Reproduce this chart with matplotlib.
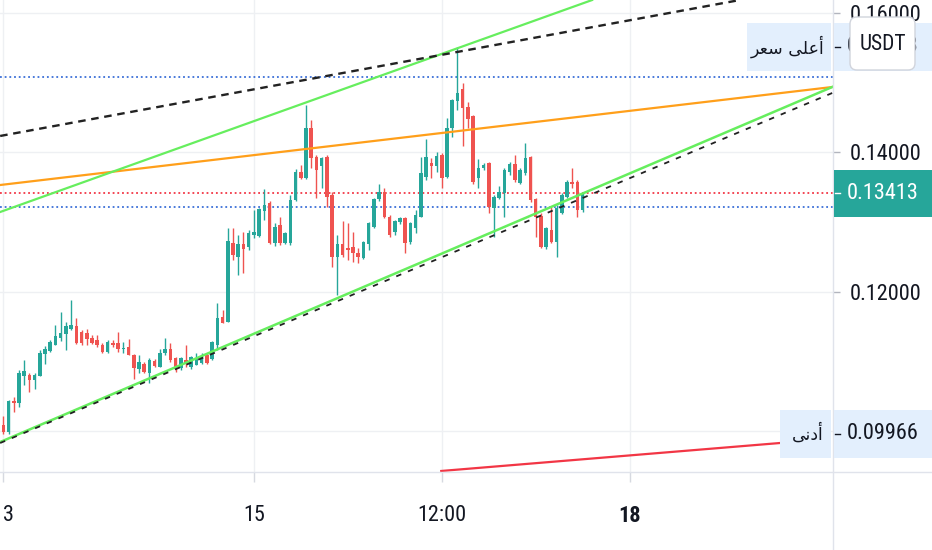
import numpy as np
import matplotlib.pyplot as plt
from matplotlib import font_manager
from matplotlib.patches import Rectangle, FancyBboxPatch
from matplotlib.lines import Line2D
from matplotlib.transforms import blended_transform_factory, IdentityTransform

# hourly candles, hours counted from day 15 00:00
first_hour = -48
opens = [
    0.10093, 0.09990, 0.10437, 0.10409, 0.10796, 0.10810, 0.10738, 0.10796, 0.11111, 0.11154,
    0.11240, 0.11340, 0.11398, 0.11470, 0.11513, 0.11426, 0.11412, 0.11340, 0.11312, 0.11240,
    0.11140, 0.11269, 0.11269, 0.11183, 0.11211, 0.11097, 0.10896, 0.10968, 0.10839, 0.11011,
    0.10925, 0.11125, 0.11183, 0.11054, 0.10910, 0.11025, 0.10925, 0.10953, 0.10982, 0.11097,
    0.11039, 0.11240, 0.11642, 0.11570, 0.12702, 0.12502, 0.12688, 0.12645, 0.12817, 0.12803,
    0.13161, 0.13276, 0.12702, 0.12961, 0.12702, 0.12702, 0.13319, 0.13720, 0.13634, 0.14351,
    0.13935, 0.13806, 0.13935, 0.13391, 0.12502, 0.12688, 0.12631, 0.12645, 0.12559, 0.12487,
    0.12688, 0.12932, 0.13333, 0.13434, 0.13075, 0.12860, 0.13004, 0.13061, 0.12717, 0.12918,
    0.13075, 0.13649, 0.13849, 0.13806, 0.13964, 0.13649, 0.14351, 0.14738, 0.14910, 0.14652,
    0.14523, 0.13634, 0.13778, 0.13849, 0.13204, 0.13348, 0.13419, 0.13720, 0.13835, 0.13563,
    0.13706, 0.13935, 0.13333, 0.13090, 0.12645, 0.12889, 0.12717, 0.13133, 0.13362, 0.13577,
    0.13577, 0.13176]
highs = [
    0.10222, 0.10452, 0.10495, 0.10882, 0.11025, 0.10839, 0.10839, 0.11168, 0.11226, 0.11312,
    0.11527, 0.11713, 0.11570, 0.11885, 0.11627, 0.11455, 0.11470, 0.11384, 0.11384, 0.11269,
    0.11312, 0.11312, 0.11426, 0.11283, 0.11326, 0.11111, 0.11097, 0.10996, 0.11054, 0.11039,
    0.11183, 0.11340, 0.11269, 0.11068, 0.11068, 0.11240, 0.11083, 0.11125, 0.11125, 0.11125,
    0.11297, 0.11842, 0.11742, 0.12918, 0.12918, 0.12817, 0.12860, 0.12889, 0.13176, 0.13204,
    0.13477, 0.13305, 0.12989, 0.13075, 0.12860, 0.13391, 0.13763, 0.13821, 0.14681, 0.14466,
    0.13964, 0.13935, 0.13964, 0.13434, 0.12817, 0.13018, 0.12989, 0.12860, 0.12631, 0.12731,
    0.13004, 0.13348, 0.13548, 0.13491, 0.13104, 0.13032, 0.13075, 0.13075, 0.13004, 0.13176,
    0.13935, 0.14194, 0.13921, 0.14007, 0.13993, 0.14495, 0.14767, 0.15513, 0.14996, 0.14724,
    0.14538, 0.13907, 0.13849, 0.13860, 0.13391, 0.13520, 0.13778, 0.13863, 0.13964, 0.13778,
    0.14136, 0.13950, 0.13348, 0.13133, 0.12932, 0.13219, 0.13247, 0.13419, 0.13606, 0.13778,
    0.13606, 0.13434]
lows = [
    0.09970, 0.09966, 0.10280, 0.10351, 0.10667, 0.10566, 0.10609, 0.10796, 0.10968, 0.11140,
    0.11240, 0.11297, 0.11168, 0.11455, 0.11255, 0.11240, 0.11240, 0.11255, 0.11211, 0.11125,
    0.11125, 0.11211, 0.11140, 0.11125, 0.11090, 0.10753, 0.10839, 0.10839, 0.10695, 0.10925,
    0.10925, 0.11097, 0.10996, 0.10853, 0.10882, 0.10925, 0.10896, 0.10953, 0.10968, 0.10968,
    0.11025, 0.11168, 0.11556, 0.11570, 0.12459, 0.12244, 0.12272, 0.12602, 0.12775, 0.12789,
    0.13032, 0.12688, 0.12659, 0.12674, 0.12688, 0.12674, 0.13305, 0.13620, 0.13620, 0.13778,
    0.13348, 0.13491, 0.13219, 0.12358, 0.11957, 0.12502, 0.12459, 0.12430, 0.12416, 0.12473,
    0.12602, 0.12918, 0.13305, 0.13061, 0.12789, 0.12817, 0.12975, 0.12559, 0.12688, 0.12846,
    0.13075, 0.13606, 0.13634, 0.13720, 0.13491, 0.13634, 0.14222, 0.14609, 0.14093, 0.14351,
    0.13548, 0.13491, 0.13749, 0.13133, 0.12789, 0.13333, 0.13075, 0.13677, 0.13577, 0.13548,
    0.13677, 0.13290, 0.12789, 0.12631, 0.12616, 0.12702, 0.12502, 0.13118, 0.13348, 0.13491,
    0.13075, 0.13147]
closes = [
    0.09993, 0.10437, 0.10409, 0.10839, 0.10867, 0.10738, 0.10810, 0.11125, 0.11183, 0.11283,
    0.11369, 0.11412, 0.11513, 0.11527, 0.11269, 0.11269, 0.11326, 0.11269, 0.11240, 0.11140,
    0.11283, 0.11240, 0.11183, 0.11197, 0.11097, 0.10910, 0.10996, 0.10853, 0.11025, 0.10939,
    0.11125, 0.11183, 0.11025, 0.10910, 0.11054, 0.10968, 0.11068, 0.11054, 0.11068, 0.10982,
    0.11283, 0.11627, 0.11556, 0.12731, 0.12530, 0.12688, 0.12616, 0.12846, 0.12860, 0.13190,
    0.13247, 0.12702, 0.12932, 0.12702, 0.12846, 0.13319, 0.13720, 0.13634, 0.14351, 0.13921,
    0.13749, 0.13921, 0.13362, 0.12502, 0.12688, 0.12530, 0.12602, 0.12559, 0.12502, 0.12717,
    0.12989, 0.13333, 0.13434, 0.13075, 0.12817, 0.13018, 0.13061, 0.12702, 0.12989, 0.13104,
    0.13706, 0.13935, 0.13806, 0.13950, 0.13634, 0.14351, 0.14753, 0.14853, 0.14638, 0.14480,
    0.13577, 0.13778, 0.13821, 0.13219, 0.13362, 0.13434, 0.13749, 0.13835, 0.13606, 0.13749,
    0.13921, 0.13319, 0.13075, 0.12645, 0.12918, 0.12717, 0.13204, 0.13391, 0.13577, 0.13548,
    0.13176, 0.13413]

# drawn trend lines: (hours, prices)
upper_green = ([-48.6, 64.8], [0.13147, 0.16186])
upper_dashed = ([-48.6, 93.1], [0.14237, 0.16186])
orange_line = ([-48.6, 110.8], [0.13534, 0.14939])
lower_green = ([-48.6, 110.8], [0.09849, 0.14939])
lower_dashed = ([-48.6, 110.8], [0.09835, 0.14853])
red_line = ([35.9, 100.8], [0.09434, 0.09835])

level_top = 0.15082
level_last = 0.13413
level_bottom = 0.13214
high_price = 0.15513
low_price = 0.09966

x_ticks = [-48, 0, 36, 72]
x_labels = ['13', '15', '12:00', '18']
y_ticks = [0.10, 0.12, 0.14, 0.16]
y_labels = ['', '0.12000', '0.14000', '0.16000']  # 0.10 sits under the low label

# Arabic labels in presentation forms, visual order (أعلى سعر / أدنى)
high_text = '\uFEAE\uFECC\uFEB3 \uFEF0\uFEE0\uFECB\uFE83'
low_text = '\uFEF0\uFEE7\uFEA9\uFE83'

names = {f.name for f in font_manager.fontManager.ttflist}
narrow = [n for n in ['Roboto Condensed', 'Liberation Sans Narrow'] if n in names]
num_font = narrow[0] if narrow else 'Roboto'
num_size = 16 if narrow else 14
plt.rcParams['font.family'] = [num_font, 'DejaVu Sans']

UP, DOWN = '#26a69a', '#ef5350'
GREEN, ORANGE = '#66ee5e', '#ff9f1a'
BLUE, RED = '#3b6fd8', '#f23645'
TXT = '#131722'
LABEL_BG = '#e3effd'

W, H = 932, 550
fig = plt.figure(figsize=(W / 100, H / 100), dpi=100)
ax = fig.add_axes([0, 78 / H, 833 / W, 472 / H])

o = np.array(opens)
h = np.array(highs)
l = np.array(lows)
c = np.array(closes)
t = np.arange(first_hour, first_hour + len(o))
col = np.where(c >= o, UP, DOWN)

ax.vlines(t, l, h, color=col, lw=1, zorder=3)
body = np.maximum(np.abs(c - o), 0.00004)
ax.bar(t, body, 0.68, bottom=np.minimum(o, c), color=col, zorder=4)

ax.axhline(level_top, color=BLUE, lw=1.3, ls=(0, (1, 1.6)), zorder=2)
ax.axhline(level_bottom, color=BLUE, lw=1.3, ls=(0, (1, 1.6)), zorder=2)
ax.axhline(level_last, color=RED, lw=1.3, ls=(0, (1, 1.6)), zorder=2)

ax.plot(*orange_line, color=ORANGE, lw=1.6, zorder=5)
ax.plot(*upper_green, color=GREEN, lw=1.6, zorder=5)
ax.plot(*lower_green, color=GREEN, lw=1.8, zorder=5)
ax.plot(*upper_dashed, color='#222222', lw=1.7, ls=(0, (3.2, 2.4)), zorder=5)
ax.plot(*lower_dashed, color='#222222', lw=1.3, ls=(0, (3, 4)), zorder=6)
ax.plot(*red_line, color=RED, lw=1.6, zorder=5)

ax.set_xlim(-48.63, 110.95)
ax.set_ylim(0.094193, 0.161864)
for s in ax.spines.values():
    s.set_visible(False)
ax.grid(color='#eef0f3', lw=1)
ax.set_axisbelow(True)

ax.set_xticks(x_ticks, x_labels)
ax.yaxis.tick_right()
ax.set_yticks(y_ticks, y_labels)
ax.tick_params(axis='x', length=7, width=1, color='#d6d9e0', pad=17,
               labelsize=num_size, labelcolor=TXT)
ax.tick_params(axis='y', length=5, width=1, color='#b2b5be', pad=7,
               labelsize=num_size, labelcolor=TXT)
ax.get_xticklabels()[3].set_fontweight('bold')

# scale separators
fig.add_artist(Line2D([833 / W, 833 / W], [0, 1], color='#e0e3eb', lw=1))
fig.add_artist(Line2D([0, 1], [78 / H, 78 / H], color='#e0e3eb', lw=1))

# price labels on the scale
tr = blended_transform_factory(fig.transFigure, ax.transData)
hh = 0.0034


def price_label(price, text, bg, fg, tag=None, tag_left=None):
    fig.add_artist(Rectangle((834 / W, price - hh), 98 / W, 2 * hh, transform=tr,
                             fc=bg, ec='none', zorder=5))
    fig.add_artist(Line2D([835 / W, 840 / W], [price, price], transform=tr,
                          color=fg, lw=1, zorder=6))
    fig.text(847 / W, price, text, transform=tr, ha='left', va='center',
             fontsize=num_size, color=fg, zorder=6)
    if tag:
        fig.add_artist(Rectangle((tag_left / W, price - hh), (831 - tag_left) / W, 2 * hh,
                                 transform=tr, fc=LABEL_BG, ec='none', zorder=5))
        fig.text(824 / W, price, tag, transform=tr, ha='right', va='center',
                 fontsize=12.5, color=TXT, family=['DejaVu Sans'], zorder=6)


price_label(level_last, f'{level_last:.5f}', UP, 'white')
price_label(high_price, f'{high_price:.5f}', LABEL_BG, TXT, high_text, 747)
price_label(low_price, f'{low_price:.5f}', LABEL_BG, TXT, low_text, 780)

# currency badge
fig.add_artist(FancyBboxPatch((850, H - 70), 65, 53, transform=IdentityTransform(),
                              boxstyle='round,pad=0,rounding_size=7',
                              fc='white', ec='#d1d4dc', lw=1, zorder=7))
fig.text(882.5 / W, 1 - 44 / H, 'USDT', ha='center', va='center',
         fontsize=num_size - 0.5, color=TXT, zorder=8)

fig.savefig('out.png', dpi=100)
